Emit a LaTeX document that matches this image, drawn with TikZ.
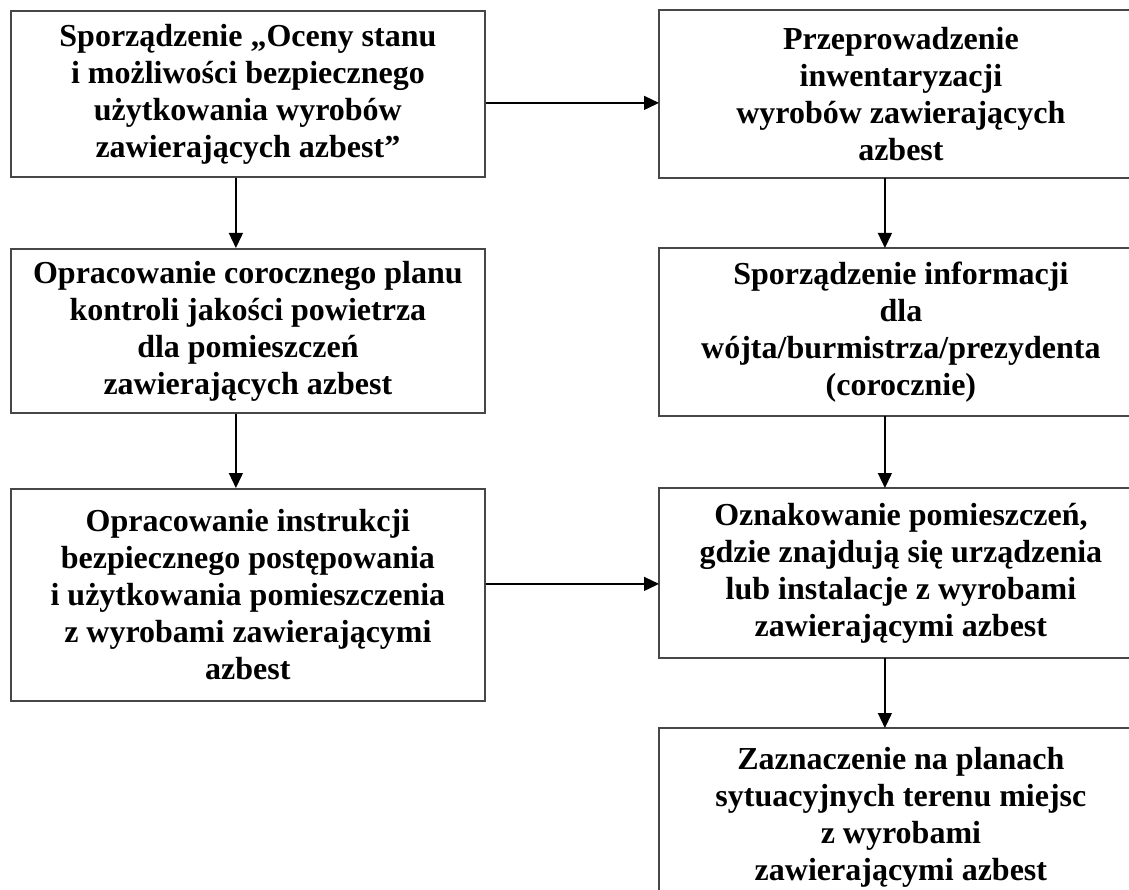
\documentclass[tikz,border=0pt]{standalone}
\usepackage{fontspec}
\setmainfont{Liberation Serif}
\usetikzlibrary{arrows.meta}
\tikzset{
  boxline/.style={draw=black!72, line width=1.8pt},
  box/.style={boxline, rectangle, anchor=north west,
    minimum width=474pt, inner sep=0pt, align=center,
    font=\bfseries\fontsize{32}{37}\selectfont},
  rbox/.style={box, draw=none, minimum width=482pt},
  arr/.style={draw=black, line width=1.3pt, -{Triangle[length=15pt,width=14pt]}}
}
\begin{document}
\begin{tikzpicture}[x=1pt,y=1pt]
\useasboundingbox (0,0) rectangle (1129,-890);
\clip (0,0) rectangle (1129,-890);
\fill[white] (0,0) rectangle (1129,-890);
\node[box, minimum height=166pt] (L1) at (10,-10) {Sporządzenie „Oceny stanu\\i możliwości bezpiecznego\\użytkowania wyrobów\\zawierających azbest”};
\node[box, minimum height=164pt] (L2) at (10,-248) {Opracowanie corocznego planu\\kontroli jakości powietrza\\dla pomieszczeń\\zawierających azbest};
\node[box, minimum height=212pt] (L3) at (10,-488) {Opracowanie instrukcji\\bezpiecznego postępowania\\i użytkowania pomieszczenia\\z wyrobami zawierającymi\\azbest};
\node[rbox, minimum height=166pt] (R1) at (659,-10) {Przeprowadzenie\\inwentaryzacji\\wyrobów zawierających\\azbest};
\node[rbox, minimum height=166pt] (R2) at (659,-248) {Sporządzenie informacji\\dla\\wójta/burmistrza/prezydenta\\(corocznie)};
\node[rbox, minimum height=168pt] (R3) at (659,-488) {Oznakowanie pomieszczeń,\\gdzie znajdują się urządzenia\\lub instalacje z wyrobami\\zawierającymi azbest};
\node[rbox, minimum height=176pt] (R4) at (659,-728) {Zaznaczenie na planach\\sytuacyjnych terenu miejsc\\z wyrobami\\zawierającymi azbest};
\foreach \n in {R1,R2,R3,R4}
  \draw[boxline] ([xshift=30pt]\n.north east) -- (\n.north west) -- (\n.south west) -- ([xshift=30pt]\n.south east);
\draw[arr] ([xshift=-12pt]L1.south) -- ([xshift=-12pt]L2.north);
\draw[arr] ([xshift=-12pt]L2.south) -- ([xshift=-12pt]L3.north);
\draw[arr] ([xshift=-16pt]R1.south) -- ([xshift=-16pt]R2.north);
\draw[arr] ([xshift=-16pt]R2.south) -- ([xshift=-16pt]R3.north);
\draw[arr] ([xshift=-16pt]R3.south) -- ([xshift=-16pt]R4.north);
\draw[arr] ([yshift=-9pt]R1.west -| L1.east) -- ([yshift=-9pt]R1.west);
\draw[arr] ([yshift=-11pt]R3.west -| L3.east) -- ([yshift=-11pt]R3.west);
\end{tikzpicture}
\end{document}
